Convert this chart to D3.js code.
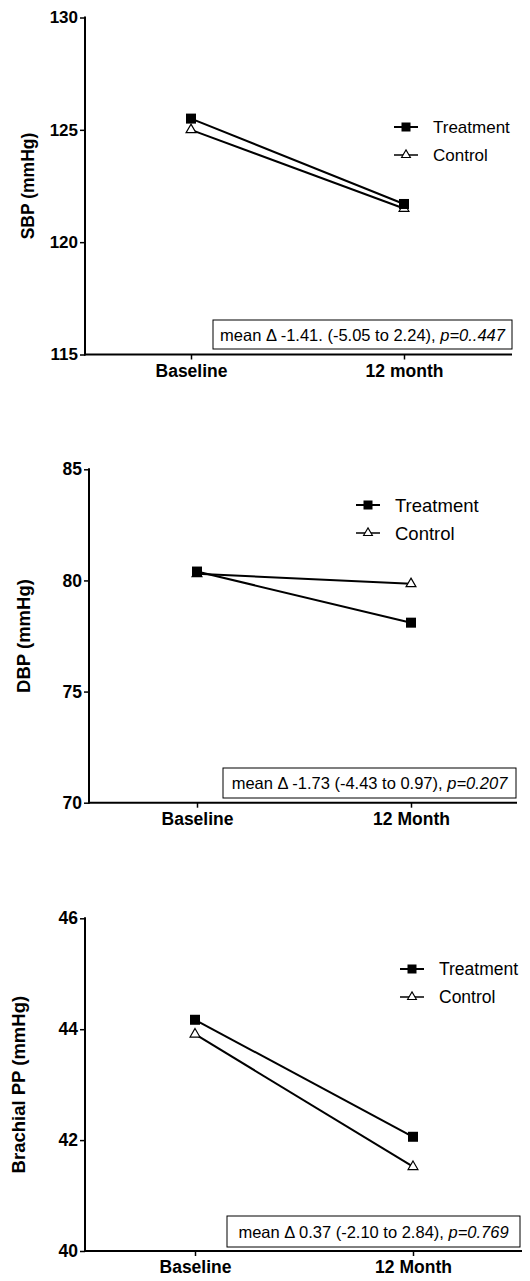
<!DOCTYPE html>
<html>
<head>
<meta charset="utf-8">
<script src="https://cdn.jsdelivr.net/npm/d3@7"></script>
<style>
  body { margin: 0; background: #fff; }
  svg { display: block; font-family: "Liberation Sans", Arial, sans-serif; }
</style>
</head>
<body>
<svg id="chart" width="530" height="1281"></svg>
<script>
// Data
const sbpCategories = ["Baseline", "12 month"];
const sbpTreatment = [125.5, 121.7];
const sbpControl = [125.0, 121.5];
const sbpTicks = [115, 120, 125, 130];

const dbpCategories = ["Baseline", "12 Month"];
const dbpTreatment = [80.4, 78.1];
const dbpControl = [80.3, 79.85];
const dbpTicks = [70, 75, 80, 85];

const ppCategories = ["Baseline", "12 Month"];
const ppTreatment = [44.17, 42.06];
const ppControl = [43.91, 41.52];
const ppTicks = [40, 42, 44, 46];

const seriesNames = ["Treatment", "Control"];

const panels = [
  {
    title: "SBP (mmHg)", categories: sbpCategories, treatment: sbpTreatment, control: sbpControl,
    ticks: sbpTicks, x0: 85, x1: 512, y0: 17.5, y1: 354.5, catX: [191, 404],
    titleX: 28, titleSize: 17.5, tickSize: 17,
    legend: { x: 394, y: 127, gap: 28, size: 17 },
    note: { x: 213, y: 320, w: 299, h: 29, pre: "mean \u0394 -1.41. (-5.05 to 2.24), ", it: "p=0..447" }
  },
  {
    title: "DBP (mmHg)", categories: dbpCategories, treatment: dbpTreatment, control: dbpControl,
    ticks: dbpTicks, x0: 89, x1: 517, y0: 469.3, y1: 802.7, catX: [197, 411],
    titleX: 23, titleSize: 18.5, tickSize: 17.5,
    legend: { x: 356, y: 505, gap: 28, size: 18.5 },
    note: { x: 223, y: 768, w: 293, h: 30, pre: "mean \u0394 -1.73 (-4.43 to 0.97), ", it: "p=0.207" }
  },
  {
    title: "Brachial PP (mmHg)", categories: ppCategories, treatment: ppTreatment, control: ppControl,
    ticks: ppTicks, x0: 85, x1: 522, y0: 918.3, y1: 1251, catX: [195, 413],
    titleX: 18, titleSize: 18.5, tickSize: 17.5,
    legend: { x: 400, y: 969, gap: 28, size: 17.5 },
    note: { x: 227, y: 1216, w: 293, h: 31, pre: "mean \u0394 0.37 (-2.10 to 2.84), ", it: "p=0.769" }
  }
];

const svg = d3.select("#chart");

panels.forEach(function(p) {
  const g = svg.append("g");

  const y = d3.scaleLinear()
    .domain(d3.extent(p.ticks))
    .range([p.y1, p.y0]);

  // x positions of the two time points
  const x = d3.scalePoint()
    .domain(p.categories)
    .range(p.catX);

  // Y axis
  const yAxis = g.append("g")
    .attr("transform", `translate(${p.x0},0)`)
    .call(d3.axisLeft(y).tickValues(p.ticks).tickSize(5).tickPadding(2).tickFormat(d3.format("d")));
  yAxis.attr("font-family", null).attr("font-size", null);
  yAxis.select(".domain").attr("stroke-width", 2).attr("d", `M0,${p.y0 - 1}V${p.y1 + 1}`);
  yAxis.selectAll(".tick line").attr("stroke-width", 1.5);
  yAxis.selectAll(".tick text")
    .attr("font-size", p.tickSize).attr("font-weight", "bold").attr("fill", "#000");

  // X axis
  const xAxis = g.append("g")
    .attr("transform", `translate(0,${p.y1})`)
    .call(d3.axisBottom(x).tickSize(5).tickPadding(5));
  xAxis.attr("font-family", null).attr("font-size", null);
  xAxis.select(".domain").attr("stroke-width", 2).attr("d", `M${p.x0 - 1},0H${p.x1}`);
  xAxis.selectAll(".tick line").attr("stroke-width", 1.5);
  xAxis.selectAll(".tick text")
    .attr("font-size", 17.5).attr("font-weight", "bold").attr("fill", "#000");

  // Y axis title
  g.append("text")
    .attr("transform", `translate(${p.titleX},${(p.y0 + p.y1) / 2}) rotate(-90)`)
    .attr("text-anchor", "middle")
    .attr("dominant-baseline", "central")
    .attr("font-size", p.titleSize)
    .attr("font-weight", "bold")
    .text(p.title);

  const line = d3.line()
    .x((d, i) => x(p.categories[i]))
    .y(d => y(d));

  // Control line
  g.append("path")
    .attr("d", line(p.control))
    .attr("fill", "none").attr("stroke", "#000").attr("stroke-width", 2);
  // Treatment line
  g.append("path")
    .attr("d", line(p.treatment))
    .attr("fill", "none").attr("stroke", "#000").attr("stroke-width", 2);

  const tri = d3.symbol().type(d3.symbolTriangle).size(42);
  g.selectAll(".ctrl")
    .data(p.control)
    .join("path")
    .attr("transform", (d, i) => `translate(${x(p.categories[i])},${y(d)})`)
    .attr("d", tri)
    .attr("fill", "#fff").attr("stroke", "#000").attr("stroke-width", 1.2);

  g.selectAll(".treat")
    .data(p.treatment)
    .join("rect")
    .attr("x", (d, i) => x(p.categories[i]) - 5)
    .attr("y", d => y(d) - 5)
    .attr("width", 10).attr("height", 10)
    .attr("fill", "#000");

  // Legend
  const lg = p.legend;
  seriesNames.forEach(function(name, i) {
    const ly = lg.y + i * lg.gap;
    g.append("line")
      .attr("x1", lg.x).attr("x2", lg.x + 24)
      .attr("y1", ly).attr("y2", ly)
      .attr("stroke", "#000").attr("stroke-width", i === 0 ? 2 : 1.5);
    if (i === 0) {
      g.append("rect")
        .attr("x", lg.x + 7.5).attr("y", ly - 4.5)
        .attr("width", 9).attr("height", 9).attr("fill", "#000");
    } else {
      g.append("path")
        .attr("transform", `translate(${lg.x + 12},${ly})`)
        .attr("d", d3.symbol().type(d3.symbolTriangle).size(34))
        .attr("fill", "#fff").attr("stroke", "#000").attr("stroke-width", 1.1);
    }
    g.append("text")
      .attr("x", lg.x + 39)
      .attr("y", ly)
      .attr("dominant-baseline", "central")
      .attr("font-size", lg.size)
      .text(name);
  });

  // Annotation box
  const n = p.note;
  g.append("rect")
    .attr("x", n.x).attr("y", n.y)
    .attr("width", n.w).attr("height", n.h)
    .attr("fill", "#fff").attr("stroke", "#000").attr("stroke-width", 1);
  const t = g.append("text")
    .attr("x", n.x + n.w / 2)
    .attr("y", n.y + n.h / 2)
    .attr("text-anchor", "middle")
    .attr("dominant-baseline", "central")
    .attr("font-size", 16.5);
  t.append("tspan").text(n.pre);
  t.append("tspan").attr("font-style", "italic").text(n.it);
});
</script>
</body>
</html>
